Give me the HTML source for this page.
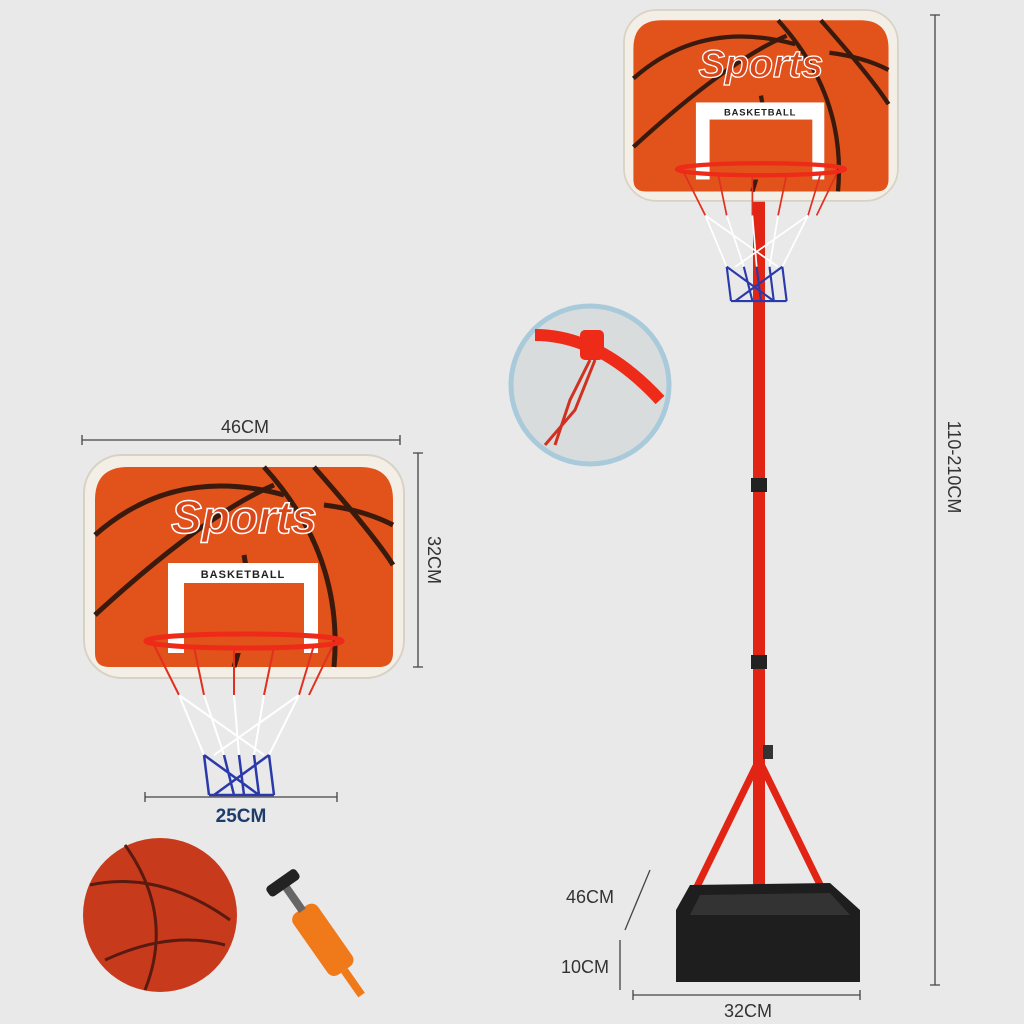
<!DOCTYPE html>
<html><head><style>
html,body{margin:0;padding:0;background:#e9e9e9;}
svg{display:block;}
text{font-family:"Liberation Sans",sans-serif;}
</style></head><body>
<svg width="1024" height="1024" viewBox="0 0 1024 1024" xmlns="http://www.w3.org/2000/svg">
<defs>
<g id="board">
  <rect x="0" y="0" width="320" height="223" rx="38" fill="#f3efe6" stroke="#d8d2c4" stroke-width="2"/>
  <path d="M11,45 Q11,12 44,12 L276,12 Q309,12 309,45 L309,198 Q309,212 295,212 L25,212 Q11,212 11,198 Z" fill="#e2521b"/>
  <g fill="none" stroke="#3a1a0c" stroke-width="5">
    <path d="M11,80 Q90,10 200,40"/>
    <path d="M11,160 Q120,60 190,30"/>
    <path d="M180,12 Q260,100 250,212"/>
    <path d="M230,12 Q290,80 309,110"/>
    <path d="M240,50 Q280,55 309,70"/>
    <path d="M150,212 Q170,150 160,100"/>
  </g>
  <rect x="84" y="108" width="150" height="90" fill="#fff"/>
  <rect x="100" y="128" width="120" height="70" fill="#e2521b"/>
  <text x="159" y="123" font-size="11" font-weight="bold" fill="#222" text-anchor="middle" letter-spacing="1">BASKETBALL</text>
  <text x="160" y="78" font-family="Liberation Serif,serif" font-style="italic" font-weight="bold" font-size="46" fill="#d8461a" stroke="#fff" stroke-width="1.5" text-anchor="middle">Sports</text>
  <g fill="none" stroke-width="2">
    <path d="M70,190 L95,240 M110,192 L120,240 M150,192 L150,240 M190,192 L180,240 M230,190 L215,240 M250,188 L225,240" stroke="#e03020"/>
    <path d="M95,240 L120,300 M120,240 L140,300 M150,240 L155,300 M180,240 L170,300 M215,240 L185,300 M95,240 L180,300 M215,240 L130,300" stroke="#fff"/>
    <path d="M120,300 L125,340 M140,300 L150,340 M155,300 L160,340 M170,300 L175,340 M185,300 L190,340 M120,300 L175,340 M185,300 L130,340 M125,340 L190,340" stroke="#2a3aaa" stroke-width="2.5"/>
  </g>
  <ellipse cx="160" cy="186" rx="98" ry="7" fill="none" stroke="#ee2a18" stroke-width="5"/>
</g>
</defs>

<!-- pole and stand (behind board) -->
<rect x="753" y="190" width="12" height="770" fill="#e22414"/>
<rect x="751" y="478" width="16" height="14" fill="#222"/>
<rect x="751" y="655" width="16" height="14" fill="#222"/>
<path d="M759,760 L688,905 M759,760 L830,905" stroke="#e22414" stroke-width="7"/>
<path d="M690,885 L830,883 L860,910 L860,982 L676,982 L676,910 Z" fill="#1e1e1e"/>
<path d="M700,895 L830,893 L850,915 L690,915 Z" fill="#333"/>
<rect x="763" y="745" width="10" height="14" fill="#333"/>

<!-- left board -->
<use href="#board" transform="translate(84,455)"/>
<!-- right board -->
<g transform="translate(624,10) scale(0.856)"><use href="#board"/></g>

<!-- dimension lines -->
<g stroke="#444" stroke-width="1.3" fill="none">
  <path d="M82,440 H400 M82,435 V445 M400,435 V445"/>
  <path d="M418,453 V667 M413,453 H423 M413,667 H423"/>
  <path d="M145,797 H337 M145,792 V802 M337,792 V802"/>
  <path d="M935,15 V985 M930,15 H940 M930,985 H940"/>
  <path d="M633,995 H860 M633,990 V1000 M860,990 V1000"/>
  <path d="M650,870 L625,930 M620,940 V990"/>
</g>
<text x="245" y="433" font-size="18" fill="#333" text-anchor="middle">46CM</text>
<text x="428" y="560" font-size="18" fill="#333" text-anchor="middle" transform="rotate(90 428 560)">32CM</text>
<text x="241" y="822" font-size="19" font-weight="bold" fill="#1d3b6b" text-anchor="middle">25CM</text>
<text x="948" y="467" font-size="18" fill="#333" text-anchor="middle" transform="rotate(90 948 467)">110-210CM</text>
<text x="748" y="1017" font-size="18" fill="#333" text-anchor="middle">32CM</text>
<text x="590" y="903" font-size="18" fill="#333" text-anchor="middle">46CM</text>
<text x="585" y="973" font-size="18" fill="#333" text-anchor="middle">10CM</text>

<!-- inset circle -->
<circle cx="590" cy="385" r="79" fill="#d8dcdd" stroke="#a8cadb" stroke-width="5"/>
<path d="M535,335 Q600,335 660,400" fill="none" stroke="#ee2a18" stroke-width="12"/>
<rect x="580" y="330" width="24" height="30" rx="5" fill="#ee2a18"/>
<path d="M590,360 L570,400 L555,445 M595,360 L575,410 L545,445" stroke="#d23020" stroke-width="3" fill="none"/>

<!-- ball -->
<circle cx="160" cy="915" r="77" fill="#c83a1c"/>
<path d="M125,845 Q175,915 145,990 M90,885 Q160,870 230,920 M105,960 Q170,930 225,945" fill="none" stroke="#5a1a10" stroke-width="3"/>

<!-- pump -->
<g transform="rotate(-35 330 950)">
  <rect x="315" y="900" width="30" height="75" rx="8" fill="#f07a1a"/>
  <rect x="326" y="870" width="8" height="32" fill="#666"/>
  <rect x="312" y="862" width="36" height="12" rx="4" fill="#222"/>
  <rect x="326" y="975" width="8" height="30" fill="#f07a1a"/>
</g>
</svg>
</body></html>
